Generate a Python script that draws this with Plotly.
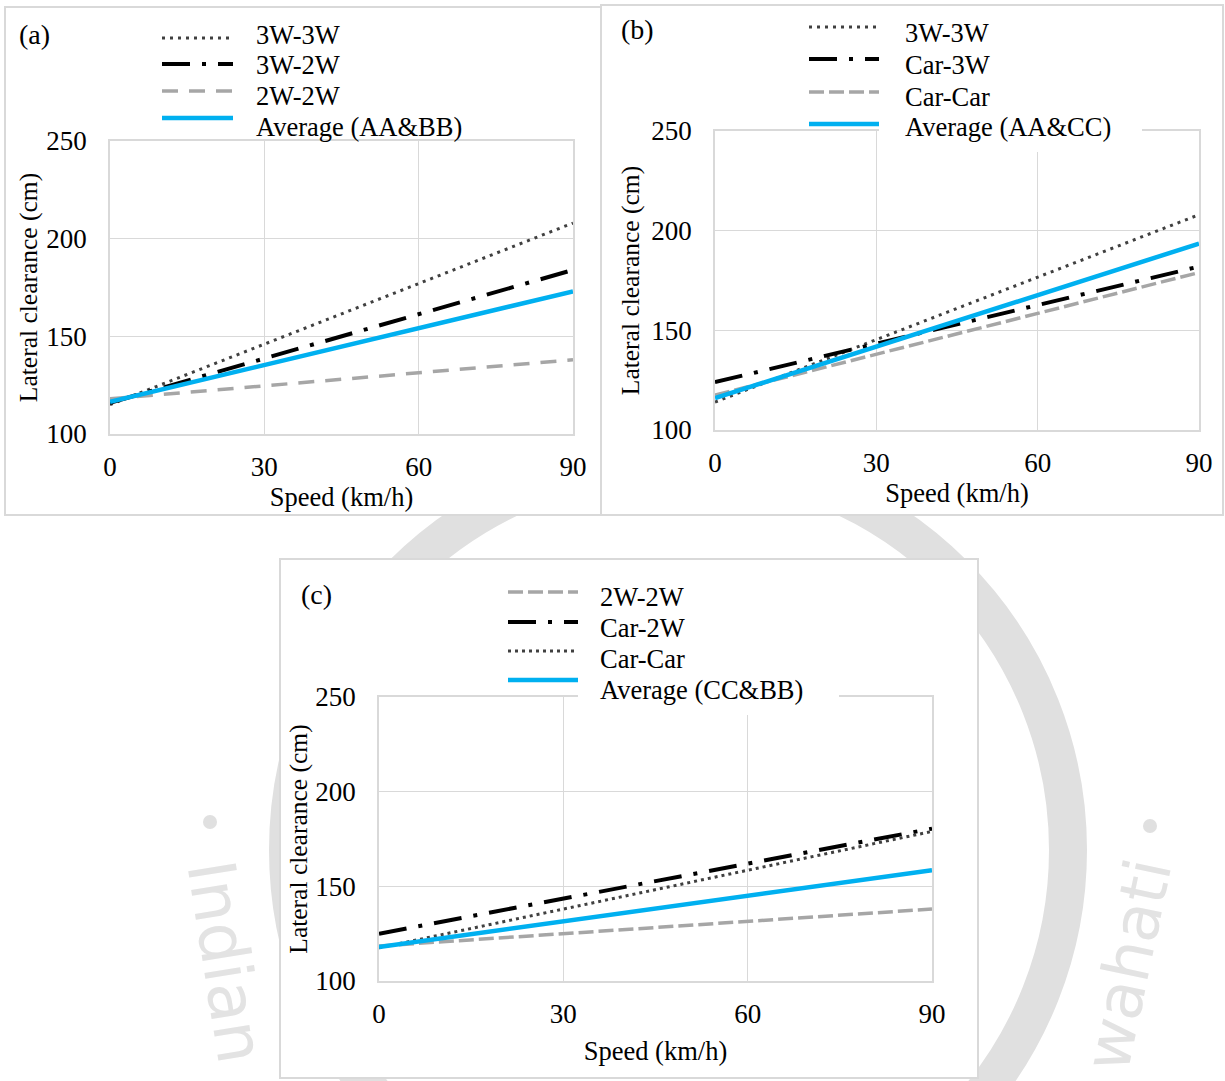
import plotly.graph_objects as go

W, H = 1225, 1081
FONT = "Liberation Serif, Times New Roman, serif"
GRID = "#D9D9D9"
FS = 26.5

# ---------------- data ----------------
speed = [0, 90]
x_ticks = [0, 30, 60, 90]
y_ticks = [100, 150, 200, 250]

# panel (a)
a_names = ["3W-3W", "3W-2W", "2W-2W", "Average (AA&BB)"]
a_3w3w = [115, 208]
a_3w2w = [116, 184]
a_2w2w = [118, 138]
a_avg = [116.5, 173]

# panel (b)
b_names = ["3W-3W", "Car-3W", "Car-Car", "Average (AA&CC)"]
b_3w3w = [114, 208]
b_car3w = [124, 182]
b_carcar = [117.5, 179]
b_avg = [116, 193.5]

# panel (c)
c_names = ["2W-2W", "Car-2W", "Car-Car", "Average (CC&BB)"]
c_2w2w = [118.5, 138]
c_car2w = [125, 180.5]
c_carcar = [117.5, 179]
c_avg = [118, 158.5]

# ---------------- styles ----------------
DOT = dict(color="#404040", width=3, dash="3px,5px")
DASHDOT = dict(color="#000000", width=4, dash="28px,12px,4px,12px")
GRAYA = dict(color="#A6A6A6", width=3.5, dash="16px,11px")
GRAYB = dict(color="#A6A6A6", width=3.5, dash="15px,5px")
BLUE = dict(color="#00B0F0", width=4.5)


def px(x):
    return x / W


def py(y):
    return 1 - y / H


fig = go.Figure()

panels = [
    # suffix, series, plot box px (l, r, top, bottom), y-title standoff, x-title standoff
    ("", [(a_names[0], a_3w3w, DOT), (a_names[1], a_3w2w, DASHDOT),
          (a_names[2], a_2w2w, GRAYA), (a_names[3], a_avg, BLUE)],
     (110, 573, 141, 434), 1, 4),
    ("2", [(b_names[0], b_3w3w, DOT), (b_names[1], b_car3w, DASHDOT),
           (b_names[2], b_carcar, GRAYB), (b_names[3], b_avg, BLUE)],
     (715, 1199, 131, 430), 4, 6),
    ("3", [(c_names[0], c_2w2w, GRAYB), (c_names[1], c_car2w, DASHDOT),
           (c_names[2], c_carcar, dict(DOT, dash="3px,4px")), (c_names[3], c_avg, BLUE)],
     (379, 932, 697, 981), 0, 13),
]

shapes = []
annotations = []

# faint background seal (watermark)
WM = "#E0E0E0"
shapes.append(dict(type="circle", xref="paper", yref="paper", layer="below",
                   x0=px(678 - 390), x1=px(678 + 390), y0=py(850 + 390), y1=py(850 - 390),
                   line=dict(color=WM, width=38), fillcolor="rgba(0,0,0,0)"))
for cx, cy in [(210, 822), (1150, 826)]:
    shapes.append(dict(type="circle", xref="paper", yref="paper", layer="below",
                       x0=px(cx - 7), x1=px(cx + 7), y0=py(cy + 7), y1=py(cy - 7),
                       line=dict(width=0), fillcolor=WM))
annotations.append(dict(text="Indian", x=px(226), y=py(962), xref="paper", yref="paper",
                        xanchor="center", yanchor="middle",
                        showarrow=False, textangle=81,
                        font=dict(family="DejaVu Sans", size=66, color="#E3E3E3")))
annotations.append(dict(text="wahati", x=px(1128), y=py(965), xref="paper", yref="paper",
                        xanchor="center", yanchor="middle",
                        showarrow=False, textangle=-78,
                        font=dict(family="DejaVu Sans", size=64, color="#E3E3E3")))

# panel boxes
for (l, r, t, b) in [(5, 601, 7, 515), (601, 1223, 5, 515), (280, 978, 559, 1078)]:
    shapes.append(dict(type="rect", xref="paper", yref="paper", layer="below",
                       x0=px(l), x1=px(r), y0=py(b), y1=py(t),
                       line=dict(color=GRID, width=2), fillcolor="white"))

for suf, series, (l, r, t, b), ysd, xsd in panels:
    xa = "x" + suf
    ya = "y" + suf
    for name, vals, st in series:
        fig.add_trace(go.Scatter(x=speed, y=vals, mode="lines", name=name,
                                 line=st, xaxis=xa, yaxis=ya, showlegend=False))
    axx = dict(domain=[px(l), px(r)], range=[0, 90], tickvals=x_ticks,
               showgrid=True, gridcolor=GRID, gridwidth=1.3, zeroline=False,
               showline=True, linecolor=GRID, linewidth=1.5, mirror=True,
               ticks="", ticklabelstandoff=8, anchor=ya,
               tickfont=dict(family=FONT, size=27, color="black"),
               title=dict(text="Speed (km/h)", standoff=xsd,
                          font=dict(family=FONT, size=FS, color="black")))
    axy = dict(domain=[py(b), py(t)], range=[100, 250], tickvals=y_ticks,
               showgrid=True, gridcolor=GRID, gridwidth=1.3, zeroline=False,
               showline=True, linecolor=GRID, linewidth=1.5, mirror=True,
               ticks="", ticklabelstandoff=16, anchor=xa,
               tickfont=dict(family=FONT, size=27, color="black"),
               title=dict(text="Lateral clearance (cm)", standoff=ysd,
                          font=dict(family=FONT, size=25.5, color="black")))
    fig.update_layout(**{"xaxis" + suf: axx, "yaxis" + suf: axy})

# legend white boxes overlapping plot top edges (b) and (c)
for (l, r, t, b) in [(879, 1142, 108, 152), (578, 839, 672, 715)]:
    shapes.append(dict(type="rect", xref="paper", yref="paper", layer="above",
                       x0=px(l), x1=px(r), y0=py(b), y1=py(t),
                       line=dict(width=0), fillcolor="white"))

# legends (keys + labels)
legend_specs = [
    (panels[0][1], (162, 233), [38, 64, 91, 118], 254, [35, 65, 96, 127]),
    (panels[1][1], (809, 879), [27, 59, 92, 124], 903, [33, 65, 97, 127]),
    (panels[2][1], (508, 578), [592, 622, 651, 680], 598, [597, 628, 659, 690]),
]
for series, (x0, x1), ys, tx, tys in legend_specs:
    for (name, vals, st), yk, yt in zip(series, ys, tys):
        shapes.append(dict(type="line", xref="paper", yref="paper", layer="above",
                           x0=px(x0), x1=px(x1), y0=py(yk), y1=py(yk), line=st))
        annotations.append(dict(text=name, x=px(tx), y=py(yt), xref="paper", yref="paper",
                                xanchor="left", yanchor="middle", showarrow=False,
                                font=dict(family=FONT, size=FS, color="black")))

# panel labels
for lab, x, y in [("(a)", 17, 35), ("(b)", 619, 30), ("(c)", 299, 594)]:
    annotations.append(dict(text=lab, x=px(x), y=py(y), xref="paper", yref="paper",
                            xanchor="left", yanchor="middle", showarrow=False,
                            font=dict(family=FONT, size=28, color="black")))

fig.update_layout(width=W, height=H, margin=dict(l=0, r=0, t=0, b=0),
                  paper_bgcolor="white", plot_bgcolor="white", template="none",
                  showlegend=False, shapes=shapes, annotations=annotations)

fig.write_html("out.html", config={"displayModeBar": False},
               post_script="document.body.style.margin='0px';")
